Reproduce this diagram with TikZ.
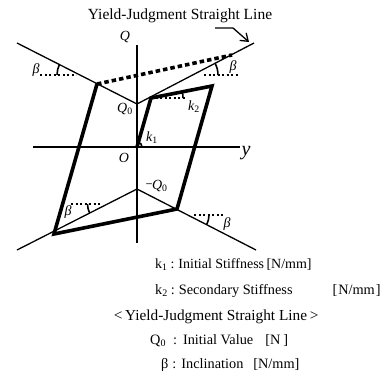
\documentclass[tikz,border=0pt]{standalone}
\usepackage{fontspec}
\setmainfont{Liberation Serif}
\usetikzlibrary{arrows.meta}
\newcommand\cln{\hspace{3pt}:\hspace{4pt}}
\begin{document}
\begin{tikzpicture}[x=1pt,y=1pt,
  thin/.style={line width=1.3pt},
  loop/.style={line width=3.6pt,line join=miter},
  yjl/.style={line width=3.6pt,dash pattern=on 4.5pt off 3pt},
  hdot/.style={line width=2.2pt,dash pattern=on 2.2pt off 2.3pt},
  amark/.style={line width=1.6pt},
  lbl/.style={inner sep=0pt,font=\fontsize{14}{16}\selectfont\itshape},
  txt/.style={inner sep=0pt,anchor=base west,font=\fontsize{14.3}{16}\selectfont}]
\useasboundingbox (0,0) rectangle (390,378);
% coordinates
\coordinate (O) at (137,231);
\coordinate (Qt) at (137,333);
\coordinate (Qb) at (137,135);
\coordinate (yl) at (33,231);
\coordinate (yr) at (240,231);
\coordinate (Q0) at (137,274);
\coordinate (UL) at (17,335);
\coordinate (UR) at (254,335);
\coordinate (mQ0) at (137,189);
\coordinate (LL) at (17,128);
\coordinate (LR) at (256,128);
\coordinate (A) at (151,280);
\coordinate (B) at (212,292);
\coordinate (C) at (177,169);
\coordinate (D) at (54,144);
\coordinate (E) at (97,294);
\coordinate (F) at (232,323);
% axes
\draw[thin] (Qb) -- (Qt);
\draw[thin] (yl) -- (yr);
% yield-judgment lines
\draw[thin] (UL) -- (Q0) -- (UR);
\draw[thin] (LL) -- (mQ0) -- (LR);
\draw[yjl] (E) -- (F);
% hysteresis loop
\draw[loop] (O) -- (A) -- (B) -- (C) -- (D) -- (E);
% angle marks
\coordinate (h1a) at (40,303); \coordinate (h1b) at (76,303);
\draw[hdot] (h1a) -- (h1b);
\draw[amark] (57,303) arc[start angle=180,end angle=153,radius=24];
\coordinate (h2a) at (204,303); \coordinate (h2b) at (238,303);
\draw[hdot] (h2a) -- (h2b);
\draw[amark] (218,303) arc[start angle=0,end angle=27,radius=25];
\coordinate (h3b) at (186,280);
\draw[hdot] (A) -- (h3b);
\draw[amark] (183,280) arc[start angle=0,end angle=11,radius=32];
\coordinate (h4a) at (71,174); \coordinate (h4b) at (101,174);
\draw[hdot] (h4a) -- (h4b);
\draw[amark] (87.5,174) arc[start angle=180,end angle=207,radius=20];
\coordinate (h5a) at (194,163); \coordinate (h5b) at (224,163);
\draw[hdot] (h5a) -- (h5b);
\draw[amark] (209,163) arc[start angle=0,end angle=-27,radius=21];
\draw[amark] (142,231) arc[start angle=0,end angle=74,radius=5];
% arrow to yield line
\node[inner sep=0pt,font=\fontsize{15.5}{17}\selectfont] (title) at (180,362) {Yield-Judgment Straight Line};
\coordinate (ar1) at (215,350);
\coordinate (ar2) at (233,350);
\coordinate (ar3) at (249,336);
\draw[line width=1.3pt,-{Straight Barb[length=7pt,width=10pt,line width=1.3pt]}] (ar1) -- (ar2) -- (ar3);
% labels
\node[lbl] (lQ) at (125,341) {Q};
\node[lbl] (lQ0) at (125,269) {Q\textsubscript{\upshape 0}};
\node[lbl] (lO) at (124,220) {O};
\node[lbl,font=\fontsize{20}{22}\selectfont\itshape] (ly) at (246,225) {y};
\node[lbl] (lk1) at (152,240) {k\textsubscript{\upshape 1}};
\node[lbl] (lk2) at (194,271) {k\textsubscript{\upshape 2}};
\node[lbl] (lmQ0) at (157,192) {\upshape\raisebox{0.3ex}{\scalebox{0.8}[1]{–}}\itshape Q\textsubscript{\upshape 0}};
\node[lbl] (b1) at (36,308) {β};
\node[lbl] (b2) at (233,311) {β};
\node[lbl] (b3) at (68,166) {β};
\node[lbl] (b4) at (227,154) {β};
% legend
\node[txt,font=\fontsize{14}{16}\selectfont] (t1) at (155,110) {k\textsubscript{1}\cln Initial Stiffness\,[N/mm]};
\node[txt] (t2) at (155,84) {k\textsubscript{2}\cln Secondary Stiffness\hspace{40pt}[\hspace{1pt}N/mm\hspace{1pt}]};
\node[txt,font=\fontsize{15.3}{17}\selectfont] (t3) at (111,58) {\makebox[14pt]{<}Yield-Judgment Straight Line\makebox[14pt]{>}};
\node[txt] (t4) at (150,34) {Q\textsubscript{0}\hspace{7pt}:\hspace{6pt}Initial Value\hspace{12pt}[N\hspace{3pt}]};
\node[txt] (t5) at (161,10) {β\hspace{4pt}:\hspace{5pt}Inclination\hspace{10pt}[N/mm]};
\end{tikzpicture}
\end{document}
